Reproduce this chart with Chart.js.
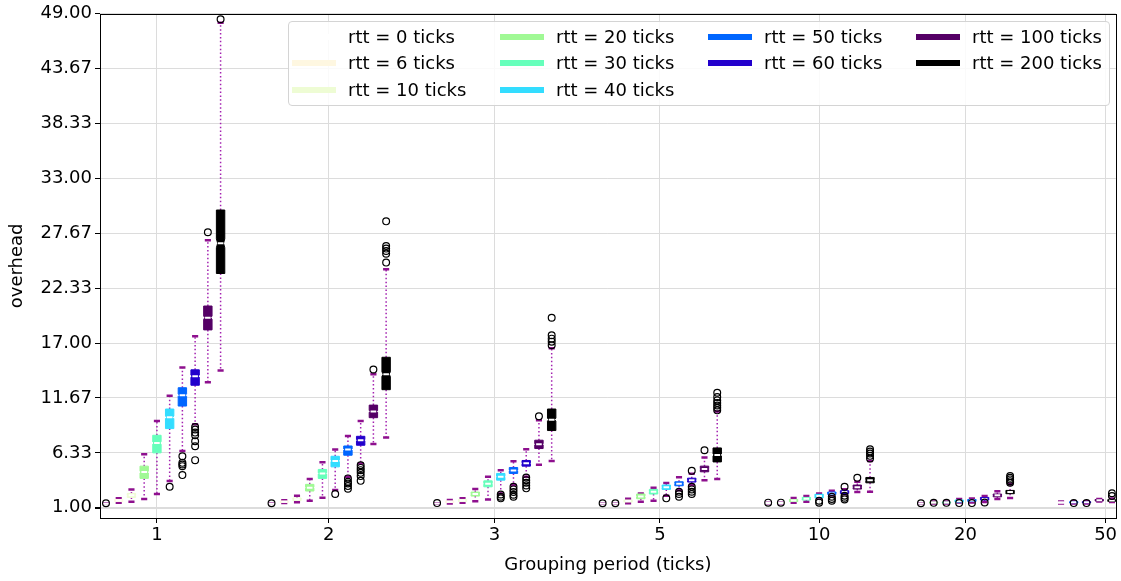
<!DOCTYPE html>
<html>
<head>
<meta charset="utf-8">
<script src="https://cdn.jsdelivr.net/npm/chart.js@4.4.1/dist/chart.umd.min.js"></script>
<style>
  body { margin: 0; background: #fff; }
  #wrap { position: relative; width: 1121px; height: 581px; }
  #legend {
    position: absolute; left: 288px; top: 21px; width: 822px; height: 85px;
    box-sizing: border-box; border: 1px solid #d4d4d4; border-radius: 4px;
    background: rgba(255, 255, 255, 0.85);
    font-family: 'DejaVu Sans', sans-serif; font-size: 18px; color: #000;
  }
  .handle { position: absolute; width: 44px; height: 6px; }
  .label { position: absolute; line-height: 22px; white-space: nowrap; }
</style>
</head>
<body>
<div id="wrap">
  <canvas id="grafico" width="1121" height="581"></canvas>
  <div id="legend"></div>
</div>
<script>
// grupos (periodo de agrupacion) y rtt
const periods = ['1', '2', '3', '5', '10', '20', '50'];
const rtts = [0, 6, 10, 20, 30, 40, 50, 60, 100, 200];
const rttColors = ['#ffffff', '#fef7e1', '#eefcd4', '#a0f995', '#66ffbb', '#33ddff',
                   '#0066ff', '#2200cc', '#550066', '#000000'];

// rtts presentes en cada grupo
const groupRtts = [
  [0, 6, 10, 20, 30, 40, 50, 60, 100, 200],
  [0, 6, 10, 20, 30, 40, 50, 60, 100, 200],
  [0, 6, 10, 20, 30, 40, 50, 60, 100, 200],
  [0, 6, 10, 20, 30, 40, 50, 60, 100, 200],
  [0, 10, 20, 30, 40, 50, 60, 100, 200],
  [0, 20, 30, 40, 50, 60, 100, 200],
  [0, 50, 60, 100, 200]
];

// [whisker bajo, q1, mediana, q3, whisker alto]
const statsP1 = [
  [1.38, 1.38, 1.38, 1.38, 1.38], [1.48, 1.6, 1.7, 1.8, 1.91], [1.58, 2.0, 2.2, 2.39, 2.78],
  [1.84, 3.85, 4.46, 5.04, 6.2], [2.33, 6.33, 7.29, 8.04, 9.42], [3.59, 8.69, 9.78, 10.59, 11.88],
  [6.52, 10.88, 11.94, 12.66, 14.63], [9.1, 12.9, 13.78, 14.4, 17.66], [13.2, 18.28, 19.47, 20.6, 26.99],
  [14.34, 23.76, 26.7, 29.93, 48.13]
];
const fliersP1 = [
  [1.43], [], [], [], [], [3.03], [6.0, 5.36, 5.2, 5.04, 4.17],
  [8.84, 8.59, 8.3, 8.04, 7.46, 6.97, 5.62], [27.77], [48.47]
];
const statsP2 = [
  [1.38, 1.38, 1.38, 1.38, 1.38], [1.45, 1.52, 1.58, 1.65, 1.72], [1.52, 1.7, 1.82, 1.95, 2.16],
  [1.68, 2.62, 2.95, 3.27, 3.78], [1.97, 3.85, 4.33, 4.72, 5.43], [2.71, 4.97, 5.55, 6.0, 6.65],
  [4.0, 6.1, 6.65, 7.0, 7.97], [5.3, 7.07, 7.56, 7.94, 9.42], [7.2, 9.75, 10.36, 10.97, 13.98],
  [7.82, 12.47, 13.98, 15.62, 24.18]
];
const fliersP2 = [
  [1.43], [], [], [], [], [2.33], [3.85, 3.52, 3.36, 3.1, 2.84],
  [5.13, 4.87, 4.65, 4.39, 4.07, 3.61], [14.43], [28.83, 26.44, 26.18, 25.95, 25.69, 24.82]
];
const statsP3 = [
  [1.4, 1.4, 1.4, 1.4, 1.4], [1.42, 1.5, 1.58, 1.66, 1.76], [1.48, 1.6, 1.7, 1.8, 1.91],
  [1.62, 2.13, 2.33, 2.52, 2.81], [1.81, 3.03, 3.32, 3.61, 4.0], [2.39, 3.68, 4.0, 4.33, 4.65],
  [3.2, 4.33, 4.62, 4.91, 5.52], [4.0, 5.04, 5.32, 5.59, 6.68], [5.17, 6.75, 7.17, 7.56, 9.49],
  [5.55, 8.5, 9.56, 10.59, 16.5]
];
const fliersP3 = [
  [1.45], [], [], [], [], [2.29, 2.07, 1.91], [3.03, 2.78, 2.52, 2.26, 2.07],
  [3.94, 3.68, 3.42, 3.17, 2.88], [9.88], [19.46, 17.76, 17.43, 17.14, 16.79]
];
const statsP5 = [
  [1.4, 1.4, 1.4, 1.4, 1.4], [1.4, 1.4, 1.4, 1.4, 1.4], [1.43, 1.55, 1.65, 1.75, 1.87],
  [1.58, 1.87, 2.1, 2.33, 2.39], [1.68, 2.33, 2.55, 2.78, 2.94], [2.16, 2.78, 3.0, 3.2, 3.39],
  [2.7, 3.13, 3.32, 3.52, 3.97], [3.2, 3.49, 3.68, 3.87, 4.3], [3.68, 4.49, 4.75, 5.04, 5.88],
  [3.78, 5.45, 6.13, 6.81, 10.36]
];
const fliersP5 = [
  [1.43], [1.43], [], [], [], [1.91], [2.55, 2.33, 2.07],
  [4.58, 3.04, 2.78, 2.55, 2.33], [6.59], [12.17, 11.75, 11.43, 11.17, 10.94, 10.72, 10.46]
];
const statsP10 = [
  [1.45, 1.45, 1.45, 1.45, 1.45], [1.45, 1.45, 1.45, 1.45, 1.45], [1.49, 1.6, 1.7, 1.8, 1.94],
  [1.58, 1.75, 1.88, 2.0, 2.13], [1.9, 1.97, 2.13, 2.3, 2.39], [2.2, 2.3, 2.39, 2.52, 2.65],
  [2.3, 2.39, 2.52, 2.65, 2.8], [2.52, 2.81, 3.0, 3.2, 3.52], [2.55, 3.42, 3.68, 3.94, 5.55]
];
const fliersP10 = [
  [1.49], [1.49], [], [], [1.68, 1.49], [2.06, 1.84, 1.68],
  [3.03, 2.16, 1.97, 1.81], [3.9], [6.68, 6.46, 6.27, 6.04, 5.78]
];
const statsP20 = [
  [1.4, 1.4, 1.4, 1.4, 1.4], [1.42, 1.46, 1.5, 1.55, 1.6], [1.42, 1.46, 1.5, 1.55, 1.6],
  [1.5, 1.55, 1.65, 1.75, 1.85], [1.5, 1.62, 1.7, 1.8, 1.9], [1.55, 1.75, 1.85, 2.0, 2.13],
  [1.84, 2.06, 2.2, 2.33, 2.6], [1.94, 2.36, 2.52, 2.68, 3.3]
];
const fliersP20 = [
  [1.43], [1.47], [1.47], [1.45], [1.45], [1.5], [], [4.07, 3.9, 3.75, 3.58, 3.42]
];
const statsP50 = [
  [1.4, 1.45, 1.5, 1.55, 1.6], [1.42, 1.48, 1.52, 1.58, 1.62], [1.42, 1.48, 1.52, 1.58, 1.62],
  [1.6, 1.65, 1.72, 1.8, 1.85], [1.55, 1.62, 1.7, 1.78, 1.9]
];
const fliersP50 = [
  [], [1.45], [1.45], [], [2.4, 2.13]
];

const groupStats = [statsP1, statsP2, statsP3, statsP5, statsP10, statsP20, statsP50];
const groupFliers = [fliersP1, fliersP2, fliersP3, fliersP5, fliersP10, fliersP20, fliersP50];

// posiciones de las etiquetas del eje x (en huecos) y ticks del eje y
const tickSlots = [4, 17.5, 30.5, 43.5, 56, 67.5, 78.5];
const yTickValues = [1.00, 6.33, 11.67, 17.00, 22.33, 27.67, 33.00, 38.33, 43.67, 49.00];

const GAP = 3;            // huecos vacios entre grupos
const X_MIN = -0.47, X_MAX = 79.3;
const WHISKER_COLOR = '#a321b0';
const CAP_COLOR = '#8e108e';

// una caja por (grupo, rtt), colocadas una tras otra
const cajas = [];
let slot = 0;
periods.forEach((p, g) => {
  groupRtts[g].forEach((rtt, j) => {
    cajas.push({ x: slot, rtt: rtt, s: groupStats[g][j], f: groupFliers[g][j] });
    slot++;
  });
  slot += GAP;
});

function colorDe(rtt) {
  return rttColors[rtts.indexOf(rtt)];
}

const boxplotPlugin = {
  id: 'boxplot',
  beforeDatasetsDraw(chart) {
    const { ctx, chartArea: a, scales: { x, y } } = chart;
    const paso = x.getPixelForValue(1) - x.getPixelForValue(0);
    const mitad = paso * 0.33, capW = paso * 0.24, medW = paso * 0.22;
    const linea = (x1, y1, x2, y2) => { ctx.beginPath(); ctx.moveTo(x1, y1); ctx.lineTo(x2, y2); ctx.stroke(); };
    ctx.save();
    ctx.beginPath();
    ctx.rect(a.left, a.top, a.right - a.left, a.bottom - a.top);
    ctx.clip();
    cajas.forEach(c => {
      const [lo, q1, med, q3, hi] = c.s;
      const cx = x.getPixelForValue(c.x);
      const yLo = y.getPixelForValue(lo), yQ1 = y.getPixelForValue(q1);
      const yMed = y.getPixelForValue(med), yQ3 = y.getPixelForValue(q3);
      const yHi = y.getPixelForValue(hi);

      // bigotes punteados
      ctx.strokeStyle = WHISKER_COLOR;
      ctx.lineWidth = 1.5;
      ctx.setLineDash([1.5, 2.4]);
      linea(cx, yQ1, cx, yLo);
      linea(cx, yQ3, cx, yHi);
      ctx.setLineDash([]);

      // topes
      ctx.strokeStyle = CAP_COLOR;
      ctx.lineWidth = 2.5;
      linea(cx - capW, yLo, cx + capW, yLo);
      linea(cx - capW, yHi, cx + capW, yHi);

      // caja con muesca
      const iqr = q3 - q1;
      const nLo = y.getPixelForValue(Math.max(q1, med - 0.07 * iqr));
      const nHi = y.getPixelForValue(Math.min(q3, med + 0.07 * iqr));
      const ins = mitad * 0.3;
      ctx.fillStyle = colorDe(c.rtt);
      ctx.strokeStyle = colorDe(c.rtt);
      ctx.lineWidth = 1;
      ctx.beginPath();
      ctx.moveTo(cx - mitad, yQ1);
      ctx.lineTo(cx - mitad, nLo);
      ctx.lineTo(cx - mitad + ins, yMed);
      ctx.lineTo(cx - mitad, nHi);
      ctx.lineTo(cx - mitad, yQ3);
      ctx.lineTo(cx + mitad, yQ3);
      ctx.lineTo(cx + mitad, nHi);
      ctx.lineTo(cx + mitad - ins, yMed);
      ctx.lineTo(cx + mitad, nLo);
      ctx.lineTo(cx + mitad, yQ1);
      ctx.closePath();
      ctx.fill();
      ctx.stroke();

      // mediana
      ctx.strokeStyle = '#ffffff';
      ctx.lineWidth = 2;
      linea(cx - medW, yMed, cx + medW, yMed);
    });
    ctx.restore();
  }
};

const marcoPlugin = {
  id: 'marco',
  afterDatasetsDraw(chart) {
    const { ctx, chartArea: a } = chart;
    ctx.save();
    ctx.strokeStyle = '#000';
    ctx.lineWidth = 1;
    ctx.strokeRect(Math.round(a.left) + 0.5, Math.round(a.top) + 0.5,
                   Math.round(a.right - a.left), Math.round(a.bottom - a.top));
    ctx.restore();
  }
};

Chart.defaults.font.family = "'DejaVu Sans', sans-serif";
Chart.defaults.font.size = 18;
Chart.defaults.color = '#000';

new Chart(document.getElementById('grafico'), {
  type: 'scatter',
  data: {
    datasets: rtts.map(rtt => ({
      label: `rtt = ${rtt} ticks`,
      data: cajas.filter(c => c.rtt === rtt).flatMap(c => c.f.map(v => ({ x: c.x, y: v }))),
      pointStyle: 'circle',
      pointRadius: 3.4,
      pointBorderWidth: 1.2,
      borderColor: '#000',
      backgroundColor: 'rgba(0,0,0,0)'
    }))
  },
  options: {
    responsive: false,
    animation: false,
    devicePixelRatio: 1,
    layout: { padding: { top: 11, right: 4, left: 0, bottom: 0 } },
    plugins: { legend: { display: false }, tooltip: { enabled: false } },
    scales: {
      x: {
        type: 'linear', min: X_MIN, max: X_MAX,
        afterBuildTicks: ax => { ax.ticks = tickSlots.map(v => ({ value: v })); },
        afterFit: ax => { ax.height = 63; },
        ticks: { autoSkip: false, maxRotation: 0, padding: 2, color: '#000',
                 callback: (v, i) => periods[i] },
        grid: { color: '#dcdcdc', tickColor: '#000', tickLength: 5 },
        border: { display: false },
        title: { display: true, text: 'Grouping period (ticks)', color: '#000',
                 padding: { top: 0, bottom: 5 } }
      },
      y: {
        min: 0, max: 49,
        afterBuildTicks: ax => { ax.ticks = yTickValues.map(v => ({ value: v })); },
        afterFit: ax => { ax.width = 100; },
        ticks: { autoSkip: false, padding: 3, color: '#000', callback: v => v.toFixed(2) },
        grid: {
          color: '#dcdcdc',
          lineWidth: ctx => (ctx.tick && ctx.tick.value === 1 ? 2 : 1),
          tickColor: '#000', tickLength: 5
        },
        border: { display: false },
        title: { display: true, text: 'overhead', color: '#000', padding: { top: 7, bottom: 0 } }
      }
    }
  },
  plugins: [boxplotPlugin, marcoPlugin]
});

// leyenda en 4 columnas (3, 3, 2, 2), como la original
const leyenda = document.getElementById('legend');
const NCOL = 4;
const porCol = [];
for (let c = 0; c < NCOL; c++) {
  porCol.push(Math.floor(rtts.length / NCOL) + (c < rtts.length % NCOL ? 1 : 0));
}
let k = 0;
porCol.forEach((n, col) => {
  for (let fila = 0; fila < n; fila++, k++) {
    const centro = 14.5 + fila * 26.5;
    const izq = 3 + col * 208;
    const h = document.createElement('div');
    h.className = 'handle';
    h.style.left = izq + 'px';
    h.style.top = (centro - 3) + 'px';
    h.style.background = rttColors[k];
    const t = document.createElement('div');
    t.className = 'label';
    t.style.left = (izq + 56) + 'px';
    t.style.top = (centro - 11) + 'px';
    t.innerText = `rtt = ${rtts[k]} ticks`;
    leyenda.appendChild(h);
    leyenda.appendChild(t);
  }
});
</script>
</body>
</html>
